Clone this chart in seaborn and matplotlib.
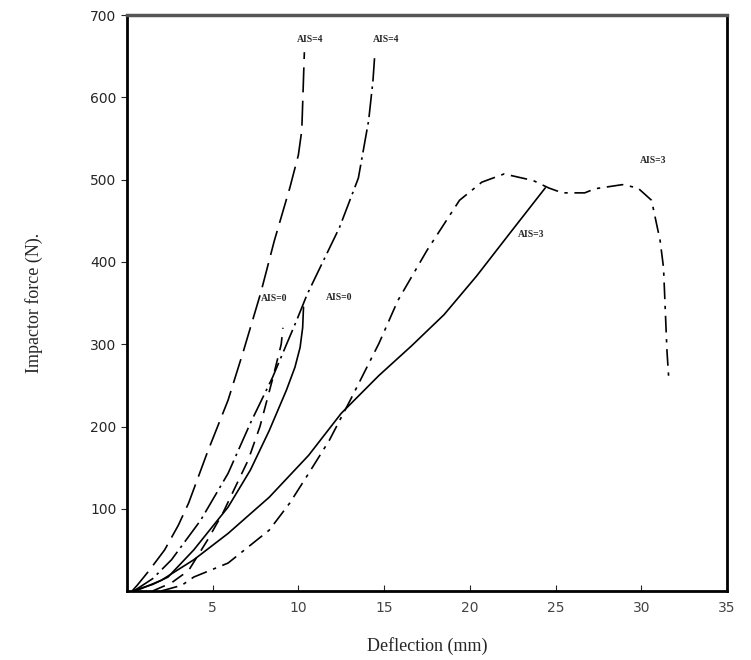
import matplotlib
matplotlib.use("Agg")
import pandas as pd
import matplotlib.pyplot as plt
import seaborn as sns

# impactor force vs deflection curves
ais4_dash_x = [0.3, 0.6, 1.3, 2.2, 3.0, 3.6, 4.7, 5.9, 6.8, 7.8, 8.6, 9.5, 10.0, 10.2, 10.35]
ais4_dash_y = [0, 7, 25, 50, 80, 107, 169, 232, 292, 362, 426, 490, 530, 560, 655]

ais4_dd_x = [0.4, 1.5, 2.6, 4.3, 5.9, 7.2, 8.5, 9.9, 10.5, 11.1, 12.4, 13.5, 14.1, 14.35, 14.45]
ais4_dd_y = [0, 15, 38, 86, 143, 204, 260, 329, 360, 386, 442, 502, 572, 620, 650]

ais0_solid_x = [0.3, 1.5, 2.4, 3.9, 5.9, 7.2, 8.3, 9.3, 9.8, 10.1, 10.25, 10.3]
ais0_solid_y = [0, 8, 17, 50, 102, 147, 195, 244, 272, 296, 320, 345]

ais0_dash_x = [1.5, 2.6, 3.6, 4.7, 5.6, 7.07, 7.76, 8.5, 9.0, 9.1]
ais0_dash_y = [0, 10, 25, 62, 95, 159, 200, 258, 300, 320]

ais3_solid_x = [0.5, 2.0, 3.9, 5.9, 8.3, 10.6, 12.5, 14.7, 16.6, 18.5, 20.4, 22.3, 24.4]
ais3_solid_y = [0, 13, 38, 70, 114, 165, 216, 262, 298, 336, 383, 434, 490]

ais3_dd_x = [2.0, 3.2, 3.9, 5.9, 8.3, 9.5, 10.6, 11.8, 13.1, 14.7, 15.8, 17.5, 19.4, 20.7, 22.0, 23.7,
             24.6, 25.4, 26.7, 27.3, 28.9, 29.8, 30.6, 31.1, 31.3, 31.5, 31.6]
ais3_dd_y = [0, 7, 17, 34, 74, 107, 143, 183, 235, 301, 353, 414, 475, 497, 507, 499,
             490, 484, 484, 489, 494, 490, 475, 426, 393, 292, 260]

labels = ["AIS=4", "AIS=4", "AIS=0", "AIS=0", "AIS=3", "AIS=3"]
label_x = [10.7, 15.1, 8.6, 12.4, 23.6, 30.7]
label_y = [671, 671, 356, 357, 434, 523]

sns.set_style("white")
fig = plt.figure(figsize=(7.51, 6.60), dpi=100)
ax = fig.add_axes([0.169, 0.1045, 0.799, 0.8725])

curves = [
    (ais4_dash_x, ais4_dash_y, (0, (15, 5))),
    (ais4_dd_x, ais4_dd_y, (0, (14, 3, 1.5, 3))),
    (ais0_solid_x, ais0_solid_y, "-"),
    (ais0_dash_x, ais0_dash_y, (0, (8, 5))),
    (ais3_solid_x, ais3_solid_y, "-"),
    (ais3_dd_x, ais3_dd_y, (0, (10, 4, 2, 4))),
]
for xs, ys, ls in curves:
    df = pd.DataFrame({"x": xs, "y": ys})
    sns.lineplot(data=df, x="x", y="y", ax=ax, color="black", linewidth=1.2,
                 linestyle=ls, sort=False, estimator=None)

for t, x, y in zip(labels, label_x, label_y):
    ax.text(x, y, t, fontsize=7, fontweight="bold", family="Liberation Serif",
            ha="center", va="center")

ax.set_xlim(0, 34.6)
ax.set_ylim(0, 700)
ax.set_xticks([5, 10, 15, 20, 25, 30, 35])
ax.set_xticklabels(["5", "10", "15", "20", "25", "30", "35"], color="#444444")
ax.set_yticks([100, 200, 300, 400, 500, 600, 700])
ax.set_yticklabels(["100", "200", "300", "400", "500", "600", "700"])
ax.tick_params(axis="x", direction="in", length=4, labelsize=10, pad=7, bottom=True)
ax.tick_params(axis="y", direction="out", length=4, labelsize=10, left=True)

for side in ["left", "bottom", "right"]:
    ax.spines[side].set_color("black")
    ax.spines[side].set_linewidth(2)
ax.spines["top"].set_color("#555555")
ax.spines["top"].set_linewidth(2.5)

ax.set_xlabel("Deflection (mm)", family="Liberation Serif", fontsize=13, labelpad=16)
ax.set_ylabel("Impactor force (N).", family="Liberation Serif", fontsize=13, labelpad=34)

fig.savefig("out.png", dpi=100)
